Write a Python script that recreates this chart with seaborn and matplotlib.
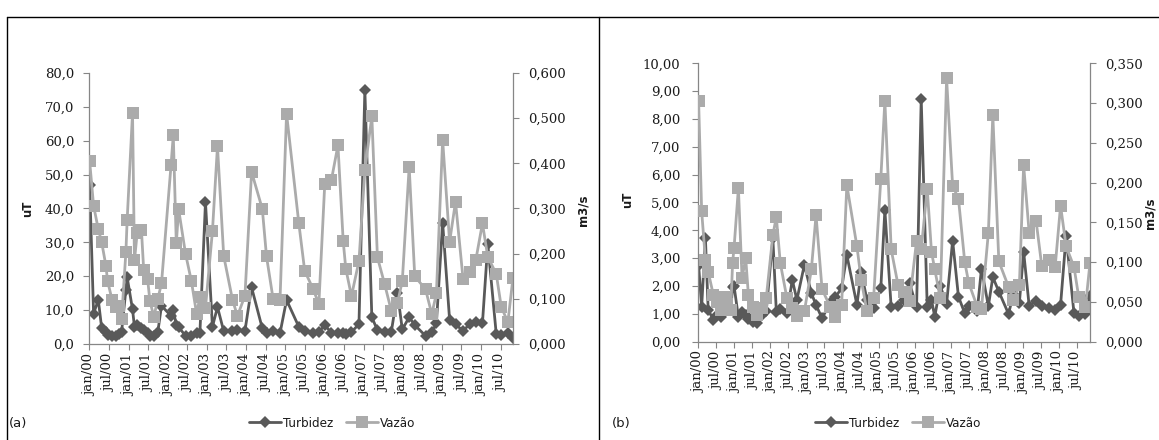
import matplotlib
matplotlib.use("Agg")
import matplotlib.pyplot as plt
import matplotlib.dates as mdates
from matplotlib.lines import Line2D
from matplotlib.ticker import FuncFormatter, MultipleLocator
from matplotlib.font_manager import FontProperties
import pandas as pd
import seaborn as sns

# ---------------- data: panel (a) ----------------
datas_a = [
    "2000-01-04", "2000-02-10", "2000-03-25", "2000-04-25", "2000-06-04", "2000-06-19",
    "2000-08-01", "2000-09-07", "2000-10-07", "2000-10-28", "2000-12-07", "2000-12-19",
    "2001-02-07", "2001-02-25", "2001-03-22", "2001-05-01", "2001-05-22", "2001-06-28",
    "2001-07-19", "2001-08-25", "2001-10-01", "2001-11-04", "2002-02-01", "2002-02-22",
    "2002-03-22", "2002-04-13", "2002-06-16", "2002-08-10", "2002-09-28", "2002-10-28",
    "2002-12-19", "2003-02-22", "2003-04-10", "2003-06-07", "2003-08-28", "2003-10-13",
    "2003-12-22", "2004-02-22", "2004-06-01", "2004-07-10", "2004-09-10", "2004-11-13",
    "2005-01-13", "2005-05-07", "2005-07-01", "2005-09-19", "2005-11-10", "2006-01-04",
    "2006-03-07", "2006-05-07", "2006-06-25", "2006-07-19", "2006-09-10", "2006-11-19",
    "2007-01-13", "2007-03-19", "2007-05-10", "2007-07-16", "2007-09-16", "2007-11-13",
    "2007-12-28", "2008-03-01", "2008-04-22", "2008-08-01", "2008-09-28", "2008-11-10",
    "2009-01-07", "2009-03-13", "2009-05-07", "2009-07-16", "2009-09-16", "2009-11-13",
    "2010-01-13", "2010-03-04", "2010-05-22", "2010-07-07", "2010-09-07", "2010-10-25",
]
turbidez_a = [
    47.0, 9.0, 13.0, 4.8, 3.5, 2.8, 2.5, 2.4, 3.0, 3.6, 16.0, 19.7,
    10.2, 5.1, 5.6, 4.6, 4.1, 3.1, 2.5, 2.4, 3.6, 11.3, 8.3, 10.0,
    5.6, 5.0, 2.4, 2.4, 3.1, 3.2, 41.9, 5.1, 10.9, 3.8, 3.8, 4.1,
    3.9, 16.7, 4.6, 3.2, 3.8, 3.2, 13.0, 5.1, 3.8, 3.3, 3.5, 5.6,
    3.3, 3.3, 3.1, 3.0, 3.5, 5.9, 75.0, 7.9, 4.1, 3.5, 3.5, 15.1,
    4.3, 7.9, 5.6, 2.4, 3.5, 6.1, 35.8, 7.1, 5.9, 3.8, 5.9, 6.6,
    6.1, 29.5, 2.9, 2.7, 3.3, 1.9,
]
vazao_a = [
    0.405, 0.306, 0.254, 0.226, 0.173, 0.140, 0.097, 0.082, 0.085, 0.055, 0.203, 0.275,
    0.511, 0.185, 0.245, 0.253, 0.164, 0.143, 0.095, 0.060, 0.100, 0.134, 0.396, 0.462,
    0.223, 0.298, 0.200, 0.139, 0.066, 0.105, 0.080, 0.250, 0.438, 0.195, 0.098, 0.062,
    0.107, 0.381, 0.299, 0.194, 0.099, 0.098, 0.510, 0.268, 0.162, 0.121, 0.088, 0.354,
    0.363, 0.440, 0.228, 0.167, 0.106, 0.184, 0.385, 0.504, 0.192, 0.133, 0.074, 0.090,
    0.140, 0.392, 0.150, 0.121, 0.066, 0.112, 0.452, 0.226, 0.315, 0.145, 0.160, 0.187,
    0.267, 0.193, 0.155, 0.083, 0.048, 0.147,
]

# ---------------- data: panel (b) ----------------
datas_b = [
    "2000-01-04", "2000-02-04", "2000-03-13", "2000-04-10", "2000-06-01", "2000-07-10",
    "2000-08-16", "2000-09-19", "2000-10-19", "2000-11-25", "2000-12-13", "2000-12-28",
    "2001-02-10", "2001-03-19", "2001-04-25", "2001-05-22", "2001-07-10", "2001-08-13",
    "2001-10-04", "2001-11-19", "2002-01-25", "2002-03-01", "2002-04-10", "2002-06-16",
    "2002-08-10", "2002-09-25", "2002-12-10", "2003-02-19", "2003-04-07", "2003-06-07",
    "2003-08-28", "2003-10-19", "2003-12-22", "2004-02-13", "2004-05-25", "2004-07-07",
    "2004-09-04", "2004-11-10", "2005-01-22", "2005-03-04", "2005-05-07", "2005-07-16",
    "2005-09-10", "2005-11-10", "2006-01-19", "2006-03-07", "2006-05-07", "2006-06-19",
    "2006-07-22", "2006-09-16", "2006-11-19", "2007-01-19", "2007-03-19", "2007-05-22",
    "2007-07-01", "2007-09-25", "2007-11-07", "2008-01-16", "2008-03-01", "2008-05-01",
    "2008-08-07", "2008-09-25", "2008-11-25", "2009-01-07", "2009-03-04", "2009-05-13",
    "2009-07-10", "2009-09-19", "2009-11-22", "2010-01-16", "2010-03-13", "2010-06-01",
    "2010-07-19", "2010-09-25", "2010-11-10",
]
turbidez_b = [
    2.75, 1.25, 3.72, 1.15, 0.78, 0.95, 0.90, 1.10, 1.30, 1.20, 1.95, 2.00,
    0.88, 1.05, 0.95, 0.80, 0.72, 0.68, 0.95, 1.10, 3.71, 1.08, 1.16, 1.02,
    2.22, 1.50, 2.76, 1.74, 1.32, 0.84, 1.40, 1.60, 1.92, 3.11, 1.32, 2.52,
    1.50, 1.20, 1.92, 4.73, 1.23, 1.30, 1.50, 2.10, 1.23, 8.72, 1.23, 1.50,
    0.90, 2.00, 1.35, 3.63, 1.62, 1.02, 1.30, 1.10, 2.62, 1.28, 2.32, 1.80,
    1.00, 1.70, 1.40, 3.23, 1.29, 1.47, 1.28, 1.20, 1.14, 1.32, 3.80, 1.02,
    0.93, 1.00, 1.64,
]
vazao_b = [
    0.303, 0.164, 0.103, 0.088, 0.059, 0.050, 0.040, 0.056, 0.048, 0.040, 0.099, 0.118,
    0.193, 0.080, 0.105, 0.059, 0.044, 0.034, 0.042, 0.055, 0.134, 0.157, 0.099, 0.055,
    0.042, 0.032, 0.038, 0.091, 0.159, 0.066, 0.044, 0.031, 0.046, 0.197, 0.120, 0.078,
    0.038, 0.055, 0.205, 0.303, 0.116, 0.071, 0.063, 0.051, 0.127, 0.116, 0.192, 0.113,
    0.091, 0.055, 0.331, 0.196, 0.180, 0.100, 0.074, 0.044, 0.041, 0.137, 0.285, 0.101,
    0.069, 0.052, 0.071, 0.222, 0.137, 0.152, 0.095, 0.103, 0.094, 0.171, 0.120, 0.094,
    0.056, 0.044, 0.099,
]

nomes_series = ["Turbidez", "Vazão"]
rotulos_paineis = ["(a)", "(b)"]
nomes_meses = {1: "jan", 7: "jul"}
rotulo_esq = "uT"
rotulo_dir = "m3/s"

# ---------------- style ----------------
sns.set_theme(style="white")
plt.rcParams["font.family"] = ["DejaVu Sans"]
plt.rcParams["axes.edgecolor"] = "#868686"
plt.rcParams["axes.linewidth"] = 0.9

ESCURO = "#595959"
CLARO = "#ababab"
SPINE = "#868686"
W, H = 1159, 440
TICK_FONT = dict(family="DejaVu Serif", size=9.5)

fig = plt.figure(figsize=(W / 100, H / 100), dpi=100)


def rect_px(left, top, right, bottom):
    return [left / W, 1 - bottom / H, (right - left) / W, (bottom - top) / H]


def fmt_mes(x, pos):
    d = mdates.num2date(x)
    return f"{nomes_meses.get(d.month, '')}/{d.year % 100:02d}"


def painel(rect, datas, turb, vaz, lim_t, passo_t, dec_t, lim_v, passo_v, pad_esq):
    ax = fig.add_axes(rect)
    df = pd.DataFrame({"data": pd.to_datetime(datas),
                       nomes_series[0]: turb, nomes_series[1]: vaz})
    sns.lineplot(data=df, x="data", y=nomes_series[0], ax=ax, color=ESCURO,
                 linewidth=2.0, marker="D", markersize=5.8, markeredgewidth=0,
                 estimator=None, sort=False)
    ax2 = ax.twinx()
    sns.lineplot(data=df, x="data", y=nomes_series[1], ax=ax2, color=CLARO,
                 linewidth=2.0, marker="s", markersize=8.0, markeredgewidth=0,
                 estimator=None, sort=False)

    ax.set_xlim(pd.Timestamp("2000-01-01"), df["data"].iloc[-1])
    ax.set_ylim(0, lim_t)
    ax2.set_ylim(0, lim_v)
    for a in (ax, ax2):
        a.set_xlabel("")
        a.set_ylabel("")
        a.spines["top"].set_visible(False)
        for s in ("left", "right", "bottom"):
            a.spines[s].set_color(SPINE)
    ax.spines["right"].set_visible(False)
    ax2.spines["left"].set_visible(False)
    ax2.spines["bottom"].set_visible(False)

    ax.yaxis.set_major_locator(MultipleLocator(passo_t))
    ax.yaxis.set_major_formatter(FuncFormatter(
        lambda v, p: f"{v:.{dec_t}f}".replace(".", ",")))
    ax2.yaxis.set_major_locator(MultipleLocator(passo_v))
    ax2.yaxis.set_major_formatter(FuncFormatter(
        lambda v, p: f"{v:.3f}".replace(".", ",")))

    ax.xaxis.set_major_locator(mdates.MonthLocator(bymonth=(1, 7)))
    ax.xaxis.set_major_formatter(FuncFormatter(fmt_mes))

    ax.tick_params(axis="x", bottom=True, direction="out", length=4, width=0.8,
                   color=SPINE, pad=3, rotation=90)
    ax.tick_params(axis="y", left=True, direction="out", length=4, width=0.8,
                   color=SPINE, pad=pad_esq)
    ax2.tick_params(axis="y", right=True, direction="out", length=4, width=0.8,
                    color=SPINE, pad=7)
    for lab in ax.get_xticklabels() + ax.get_yticklabels() + ax2.get_yticklabels():
        lab.set_fontfamily(TICK_FONT["family"])
        lab.set_fontsize(TICK_FONT["size"])
        lab.set_color("#1a1a1a")
    return ax, ax2


painel(rect_px(89.3, 73, 513, 344), datas_a, turbidez_a, vazao_a,
       80, 10, 1, 0.6, 0.1, 7)
painel(rect_px(698.3, 63.3, 1090, 341.7), datas_b, turbidez_b, vazao_b,
       10, 1, 2, 0.35, 0.05, 9)

# axis titles
titulo = dict(fontsize=8.5, fontweight="bold", rotation=90, ha="center",
              va="center", color="#1a1a1a")
fig.text(28 / W, 1 - 209 / H, rotulo_esq, **titulo)
fig.text(583 / W, 1 - 210 / H, rotulo_dir, **titulo)
fig.text(628 / W, 1 - 200 / H, rotulo_esq, **titulo)
fig.text(1150 / W, 1 - 213 / H, rotulo_dir, **titulo)

# legends and panel tags
alcas = [
    Line2D([], [], color=ESCURO, linewidth=2.0, marker="D", markersize=5.8,
           markeredgewidth=0),
    Line2D([], [], color=CLARO, linewidth=2.0, marker="s", markersize=8.0,
           markeredgewidth=0),
]
fonte_leg = FontProperties(family=["DejaVu Sans"], stretch="condensed", size=9.5)
for cx in (332, 898):
    fig.legend(alcas, nomes_series, loc="center",
               bbox_to_anchor=(cx / W, 1 - 423 / H), ncol=2, frameon=False,
               handlelength=2.4, handletextpad=0.15, columnspacing=1.0,
               prop=fonte_leg, labelcolor="#1a1a1a")

fig.text(18 / W, 1 - 423 / H, rotulos_paineis[0], ha="center", va="center",
         fontsize=9.5, color="#1a1a1a")
fig.text(621 / W, 1 - 423 / H, rotulos_paineis[1], ha="center", va="center",
         fontsize=9.5, color="#1a1a1a")

# chart frames
topo = 1 - 17 / H
for x in (7, 599):
    fig.add_artist(Line2D([x / W, x / W], [0, topo], transform=fig.transFigure,
                          color="black", linewidth=1.0))
fig.add_artist(Line2D([7 / W, 1], [topo, topo], transform=fig.transFigure,
                      color="black", linewidth=1.0))

fig.savefig("out.png", dpi=100, facecolor="white")
